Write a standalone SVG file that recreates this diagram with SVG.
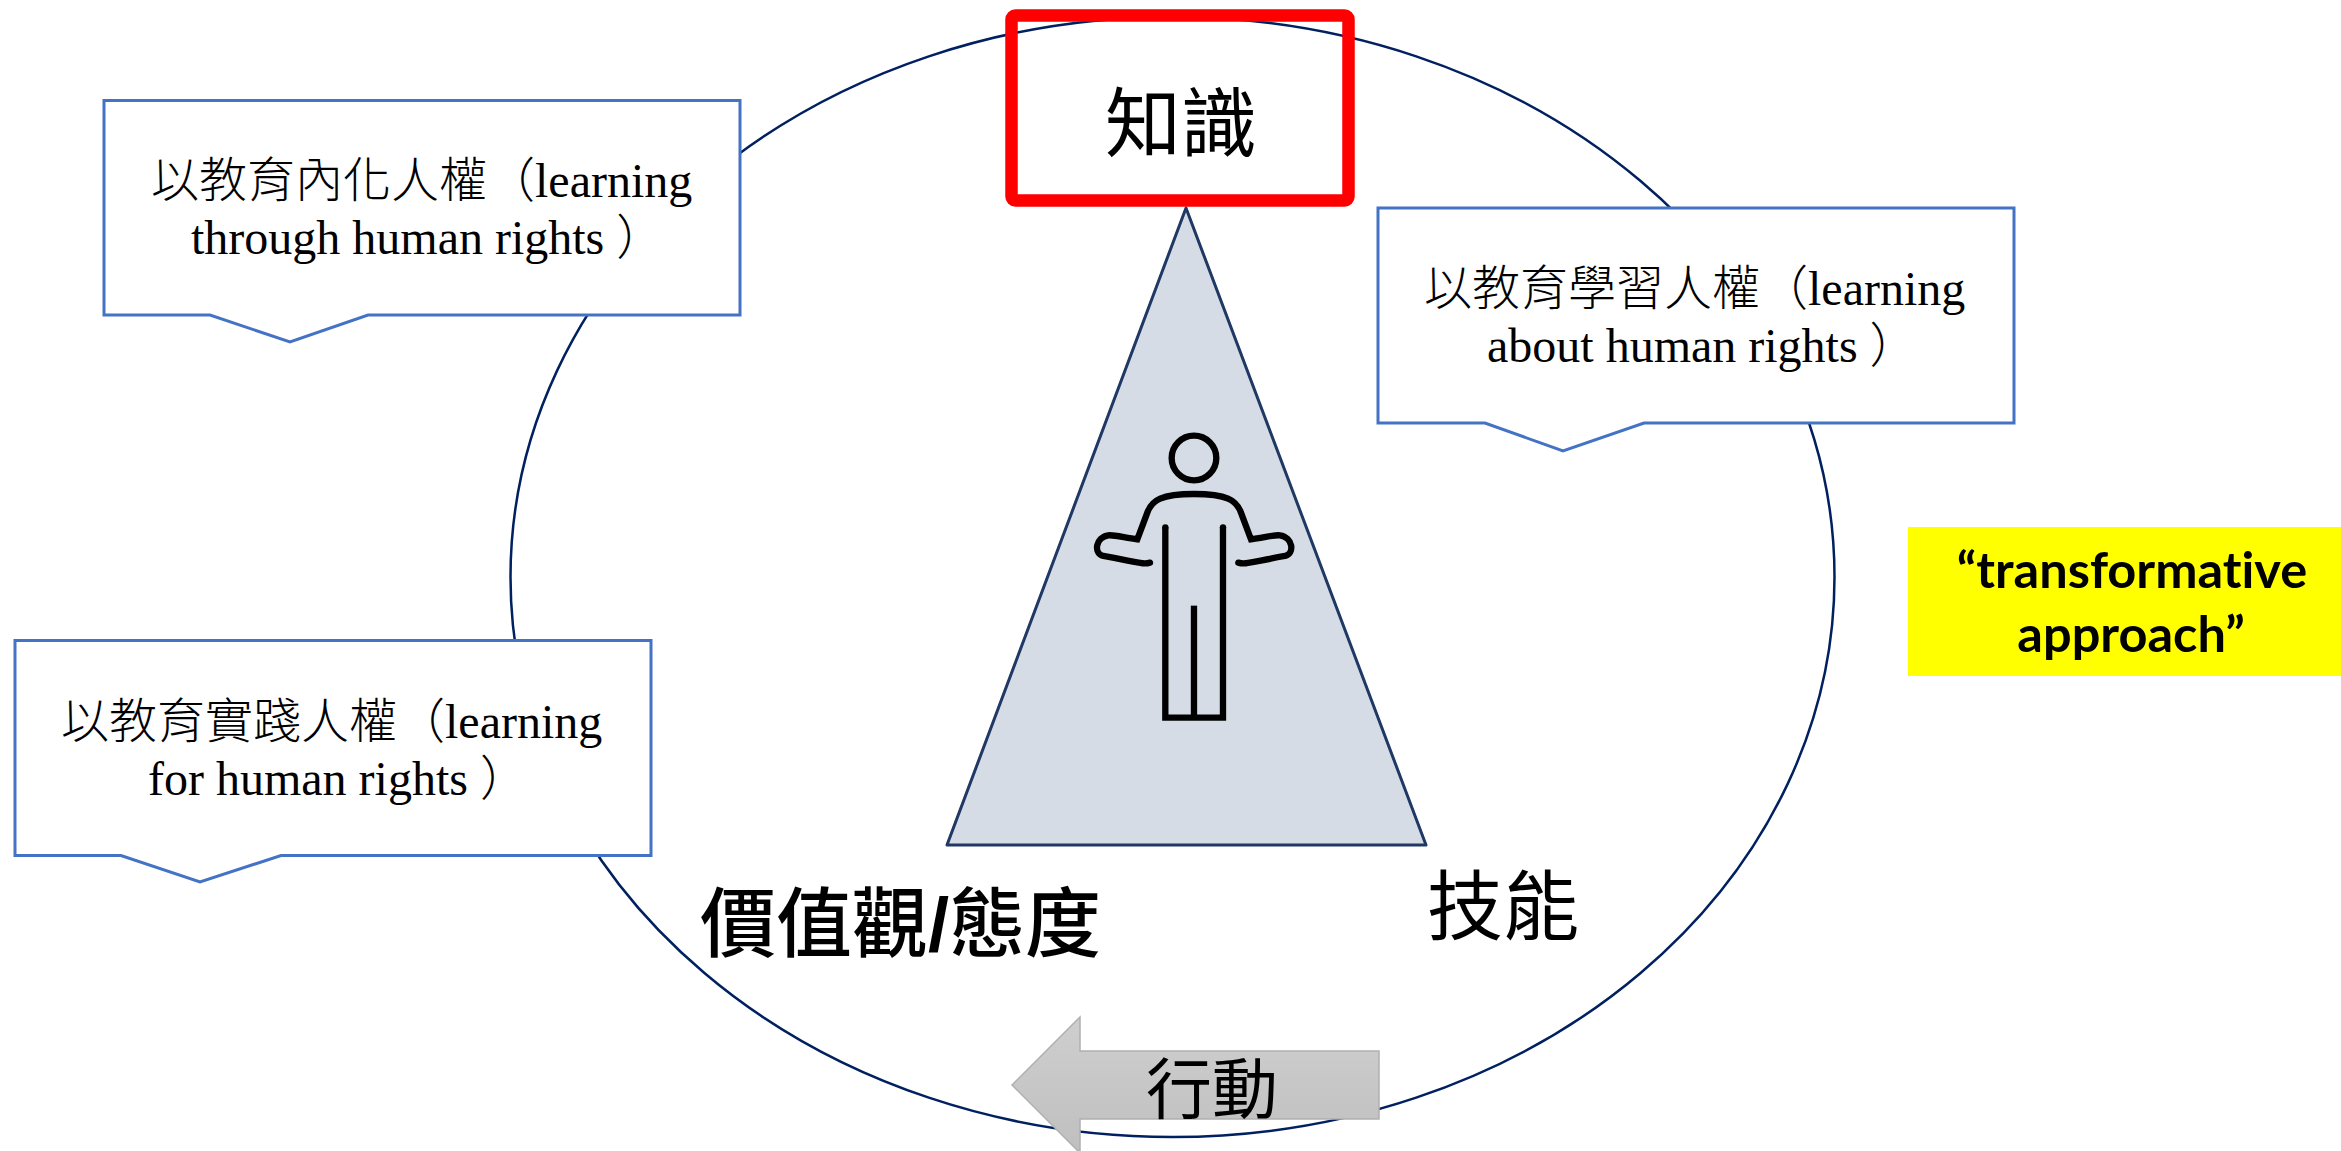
<svg xmlns="http://www.w3.org/2000/svg" width="2341" height="1151" viewBox="0 0 2341 1151">
<style>
.cjk{font-family:"Liberation Serif","Noto Sans CJK TC",serif;fill:#000}
.t{font-size:48px;font-weight:300}
.h{font-size:76px;font-weight:400}
.callout{fill:#fff;stroke:#4472c4;stroke-width:3}
.en{font-family:Lato,"Open Sans",sans-serif;font-weight:700;font-size:50.5px;text-anchor:middle;fill:#000;font-variant-ligatures:none}
.fig{fill:none;stroke:#000;stroke-width:19;stroke-linecap:round;stroke-linejoin:miter}
</style>
<defs>
<linearGradient id="g" x1="0" y1="0" x2="0" y2="1"><stop offset="0" stop-color="#cfcfcf"/><stop offset="1" stop-color="#bfbfbf"/></linearGradient>
</defs>
<g id="connectors">
<ellipse cx="1172.5" cy="577" rx="662" ry="560" fill="none" stroke="#002060" stroke-width="2.5"/>
</g>
<g id="triangle"><polygon points="1186,208 1426,845 947,845" fill="#d6dce5" stroke="#1f3864" stroke-width="3" stroke-linejoin="round"/></g>
<g id="person" transform="translate(1050,420) scale(0.3333)">
<circle class="fig" cx="432" cy="114" r="67"/>
<path class="fig" d="M300 428C280 434 270 428 160 408C130 400 136 352 175 346C190 344 220 352 262 358L292 278C305 240 335 222 432 222C530 222 560 240 573 278L603 358C645 352 675 344 690 346C729 352 735 400 705 408C595 428 585 434 565 428"/>
<path class="fig" style="stroke-linecap:butt" d="M346 322V893H519V322"/>
<circle cx="346" cy="322" r="9.5"/><circle cx="519" cy="322" r="9.5"/>
<path class="fig" style="stroke-linecap:butt" d="M432 557V893"/>
</g>
<g id="knowledge">
<rect x="1011.5" y="15.5" width="337" height="185" rx="4" fill="none" stroke="#f00" stroke-width="12.5"/>
<text class="cjk h" x="1105" y="151">知識</text>
</g>
<g id="callout-through">
<path class="callout" d="M104 100.5H740V315H368L290 342L210 315H104Z"/>
<text class="cjk t" x="151" y="197">以教育內化人權（learning</text>
<text class="cjk t" x="191" y="254">through human rights ）</text>
</g>
<g id="callout-about">
<path class="callout" d="M1378 208H2014V423H1644L1563 451L1485 423H1378Z"/>
<text class="cjk t" x="1424" y="305">以教育學習人權（learning</text>
<text class="cjk t" x="1487" y="362">about human rights ）</text>
</g>
<g id="callout-for">
<path class="callout" d="M15 640.5H651V855.5H281L200 882L121 855.5H15Z"/>
<text class="cjk t" x="61" y="738">以教育實踐人權（learning</text>
<text class="cjk t" x="148" y="795">for human rights ）</text>
</g>
<g id="transformative">
<rect x="1908" y="527" width="433" height="149" fill="#ff0"/>
<text class="en" x="2132" y="588">“transformative</text>
<text class="en" x="2131" y="652">approach”</text>
</g>
<g id="values"><text class="cjk h" style="font-weight:500" x="700" y="951">價值觀<tspan style="font-family:'Liberation Sans',sans-serif;font-weight:700">/</tspan>態度</text></g>
<g id="skills"><text class="cjk h" x="1427" y="934">技能</text></g>
<g id="action">
<polygon points="1012,1085 1080,1017 1080,1051 1379,1051 1379,1119 1080,1119 1080,1153" fill="url(#g)" stroke="#b0b0b0" stroke-width="1.5"/>
<text class="cjk" style="font-size:66px" x="1146" y="1113">行動</text>
</g>
</svg>
